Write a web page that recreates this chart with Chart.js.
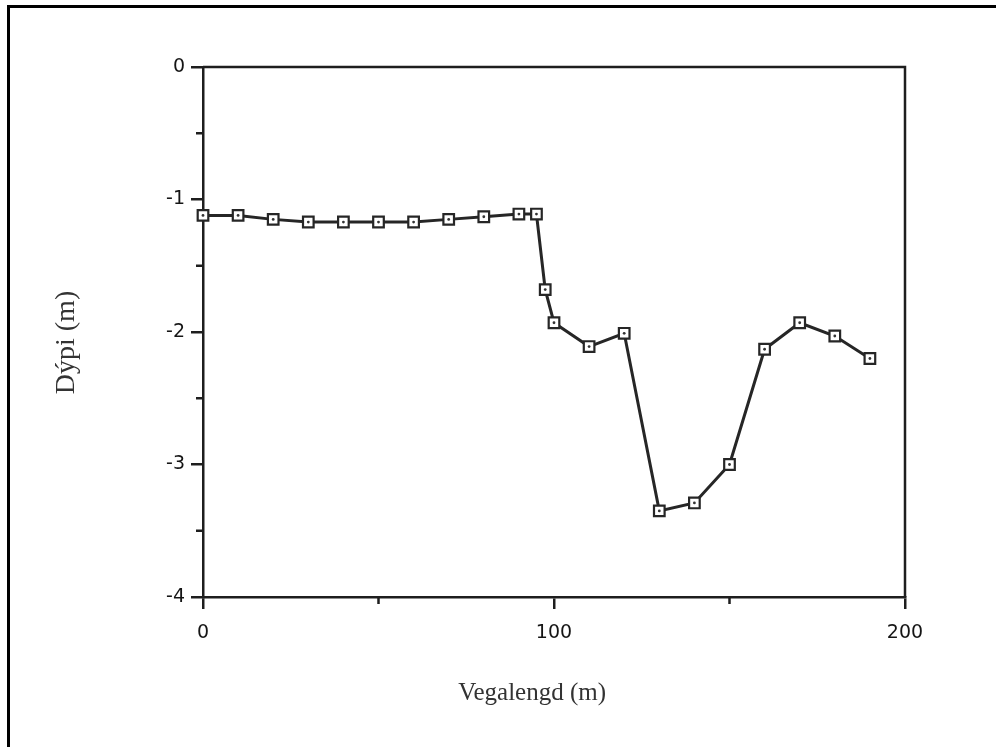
<!DOCTYPE html>
<html>
<head>
<meta charset="utf-8">
<script src="https://cdn.jsdelivr.net/npm/chart.js@4/dist/chart.umd.min.js"></script>
<style>
    body { margin: 0; background: #fff; }
    #wrap { position: relative; width: 996px; height: 747px; }
    #frame {
        position: absolute; left: 7px; top: 5px; right: 0; bottom: 0;
        border-left: 3px solid #000; border-top: 3px solid #000;
        pointer-events: none;
    }
</style>
</head>
<body>
<div id="wrap">
    <canvas id="depthChart" width="996" height="747"></canvas>
    <div id="frame"></div>
</div>
<script>
// distance along the profile (m)
const distance = [0, 10, 20, 30, 40, 50, 60, 70, 80, 90, 95, 97.5, 100, 110, 120, 130, 140, 150, 160, 170, 180, 190];
// depth (m)
const depth = [-1.12, -1.12, -1.15, -1.17, -1.17, -1.17, -1.17, -1.15, -1.13, -1.11, -1.11, -1.68, -1.93, -2.11, -2.01, -3.35, -3.29, -3.00, -2.13, -1.93, -2.03, -2.20];

const xMajor = [0, 100, 200];
const xMinor = [50, 150];
const yMajor = [0, -1, -2, -3, -4];
const yMinor = [-0.5, -1.5, -2.5, -3.5];

const ink = '#1e1e1e';
const points = distance.map((d, i) => ({ x: d, y: depth[i] }));

// box round the plot and short minor ticks
const boxPlugin = {
    id: 'boxPlugin',
    beforeDatasetsDraw(chart) {
        const { ctx, chartArea: a, scales } = chart;
        ctx.save();
        ctx.strokeStyle = ink;
        ctx.lineWidth = 2.5;
        ctx.beginPath();
        ctx.moveTo(a.left, a.top);
        ctx.lineTo(a.right, a.top);
        ctx.lineTo(a.right, a.bottom);
        ctx.stroke();
        ctx.beginPath();
        yMinor.forEach(v => {
            const py = scales.y.getPixelForValue(v);
            ctx.moveTo(a.left - 7, py);
            ctx.lineTo(a.left, py);
        });
        xMinor.forEach(v => {
            const px = scales.x.getPixelForValue(v);
            ctx.moveTo(px, a.bottom);
            ctx.lineTo(px, a.bottom + 7);
        });
        ctx.stroke();
        ctx.restore();
    }
};

const ctx = document.getElementById('depthChart').getContext('2d');
new Chart(ctx, {
    type: 'scatter',
    data: {
        datasets: [{
            data: points,
            showLine: true,
            borderColor: '#262626',
            borderWidth: 3,
            pointStyle: 'rect',
            pointRadius: 7.5,
            pointBorderWidth: 2.2,
            pointBorderColor: '#262626',
            pointBackgroundColor: '#fff',
            clip: false,
            order: 1
        }, {
            data: points,
            showLine: false,
            pointStyle: 'circle',
            pointRadius: 1.4,
            pointBorderWidth: 0,
            pointBackgroundColor: '#333',
            clip: false,
            order: 0
        }]
    },
    options: {
        responsive: false,
        devicePixelRatio: 1,
        animation: false,
        layout: { padding: { left: 46, top: 67, right: 91, bottom: 35 } },
        plugins: {
            legend: { display: false },
            tooltip: { enabled: false }
        },
        scales: {
            x: {
                type: 'linear',
                min: 0,
                max: 200,
                afterBuildTicks: scale => { scale.ticks = xMajor.map(v => ({ value: v })); },
                afterFit: scale => { scale.height = 747 - 597 - 35; },
                grid: { drawOnChartArea: false, drawTicks: true, tickLength: 12, color: ink, lineWidth: 2.5 },
                border: { display: true, color: ink, width: 2.5 },
                ticks: {
                    color: '#151515',
                    padding: 13,
                    maxRotation: 0,
                    font: { family: '"DejaVu Sans", sans-serif', size: 19 }
                },
                title: {
                    display: true,
                    text: 'Vegalengd (m)       ',
                    color: '#333',
                    padding: { top: 0, bottom: 4 },
                    font: { family: '"Liberation Serif", serif', size: 25 }
                }
            },
            y: {
                type: 'linear',
                min: -4,
                max: 0,
                afterBuildTicks: scale => { scale.ticks = yMajor.map(v => ({ value: v })); },
                afterFit: scale => { scale.width = 203 - 46; },
                grid: { drawOnChartArea: false, drawTicks: true, tickLength: 12, color: ink, lineWidth: 2.5 },
                border: { display: true, color: ink, width: 2.5 },
                ticks: {
                    color: '#151515',
                    padding: 6,
                    font: { family: '"DejaVu Sans", sans-serif', size: 19 }
                },
                title: {
                    display: true,
                    text: 'Dýpi (m)   ',
                    color: '#333',
                    padding: { top: 4, bottom: 0 },
                    font: { family: '"Liberation Serif", serif', size: 28 }
                }
            }
        }
    },
    plugins: [boxPlugin]
});
</script>
</body>
</html>
